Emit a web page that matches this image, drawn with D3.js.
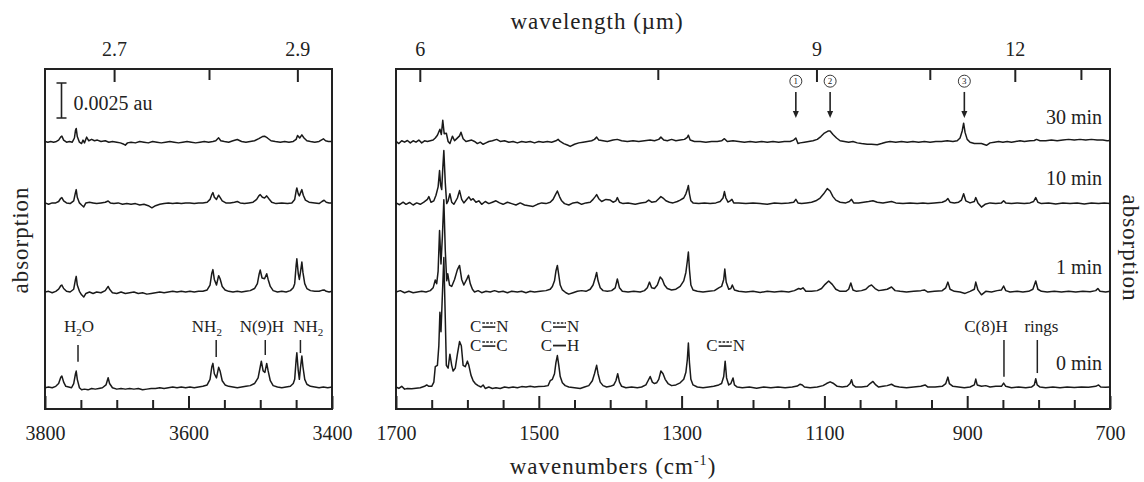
<!DOCTYPE html>
<html>
<head>
<meta charset="utf-8">
<script src="https://cdn.jsdelivr.net/npm/d3@7"></script>
<style>
  body { margin: 0; background: #fff; }
  svg text { font-family: "Liberation Serif", "DejaVu Serif", serif; fill: #222; }
</style>
</head>
<body>
<div id="chart"></div>
<script>
// IR absorption spectra, N-H stretch region (left) and fingerprint region (right)
// absorbance values in 10^-3 au, relative to each trace's own baseline

const times = ['0 min', '1 min', '10 min', '30 min'];
const offsets = [1.52, 8.36, 14.68, 19.07];

// 3800-3400 cm-1
const nh0 = [[3800,0],[3795,0.05],[3790,0],[3785,0.1],[3781,0.3],[3778,0.75],[3776.5,0.84],[3774,0.4],[3771,0.1],[3767,0.05],[3763,0],[3760,0.3],[3757.5,1.0],[3756.5,1.19],[3755,0.6],[3752,0],[3749,-0.15],[3745,-0.1],[3740,-0.15],[3735,-0.05],[3730,-0.1],[3725,-0.05],[3720,0],[3715,0.2],[3712,0.71],[3710,0.3],[3706,0],[3700,-0.1],[3694,-0.05],[3688,-0.1],[3682,-0.05],[3676,-0.1],[3670,-0.05],[3664,-0.15],[3658,-0.1],[3652,-0.05],[3646,-0.05],[3640,0],[3634,-0.05],[3628,0],[3622,0.05],[3616,0],[3610,0.05],[3604,0],[3598,0.05],[3592,0],[3586,0.05],[3580,0.1],[3574,0.2],[3570,0.6],[3567.5,1.5],[3566,1.74],[3564,1.0],[3561,0.7],[3558,1.46],[3556,1.2],[3553,0.5],[3549,0.2],[3544,0.1],[3538,0.05],[3532,0],[3526,0.05],[3520,0.1],[3514,0.15],[3508,0.3],[3503,0.7],[3500,1.5],[3498.5,1.9],[3496,1.2],[3493.5,1.1],[3491,1.74],[3489,1.2],[3486,0.5],[3482,0.15],[3476,0.05],[3470,0],[3464,0.05],[3458,0.1],[3454,0.3],[3452,0.6],[3450,2.0],[3449,2.5],[3447,1.2],[3445.5,0.6],[3444,1.4],[3442,2.26],[3440.5,1.5],[3438,0.6],[3435,0.25],[3430,0.1],[3424,0.05],[3418,0],[3412,0.05],[3406,0],[3400,0.05]];
const nh1 = [[3800,0],[3795,0.05],[3790,-0.05],[3785,0.05],[3781,0.2],[3778,0.45],[3776.5,0.5],[3774,0.25],[3770,0.05],[3765,0],[3760,0.2],[3757.5,0.9],[3756.5,1.12],[3755,0.5],[3752,0.05],[3749,-0.2],[3746,-0.36],[3743,-0.1],[3738,0],[3733,-0.1],[3728,0],[3722,-0.05],[3716,0.1],[3712,0.4],[3710,0.2],[3706,-0.05],[3700,-0.1],[3694,0],[3688,-0.1],[3682,-0.05],[3676,0],[3670,-0.1],[3664,-0.05],[3658,-0.15],[3652,-0.1],[3646,-0.05],[3640,0],[3634,-0.05],[3628,0],[3622,0.05],[3616,0],[3610,0.05],[3604,0],[3598,0.05],[3592,0],[3586,0.05],[3580,0.05],[3574,0.15],[3570,0.5],[3567.5,1.35],[3566,1.6],[3564,0.9],[3561,0.5],[3558,1.17],[3556,0.95],[3553,0.4],[3549,0.15],[3544,0.05],[3538,0],[3532,0.05],[3526,0],[3520,0.05],[3514,0.1],[3508,0.25],[3504,0.6],[3501.5,1.3],[3500,1.57],[3497.5,1.0],[3494,0.95],[3491,1.31],[3489,0.9],[3486,0.4],[3482,0.1],[3476,0],[3470,0.05],[3464,0],[3458,0.1],[3454,0.3],[3452,0.6],[3450,1.9],[3449,2.38],[3447,1.3],[3445.5,0.9],[3444,1.4],[3442,2.14],[3440.5,1.4],[3438,0.6],[3435,0.25],[3430,0.1],[3424,0.05],[3418,0.05],[3414,0.12],[3411,0.15],[3408,0.05],[3404,0],[3400,0.05]];
const nh10 = [[3800,0.05],[3795,-0.05],[3790,0.05],[3785,0.05],[3781,0.15],[3778,0.38],[3776.5,0.43],[3774,0.2],[3770,0.05],[3765,0],[3760,0.2],[3757.5,0.8],[3756.5,1.0],[3755,0.45],[3752,0.05],[3749,-0.1],[3746,-0.24],[3743,0.05],[3738,0.1],[3733,0.05],[3728,0],[3722,0.05],[3716,0.1],[3712,0.19],[3709,0.05],[3704,0],[3698,0.05],[3692,-0.05],[3686,0],[3680,-0.05],[3674,0],[3668,-0.1],[3662,-0.05],[3656,-0.15],[3651,-0.3],[3646,-0.15],[3640,-0.05],[3634,0],[3628,0.05],[3622,0],[3616,0.05],[3610,0],[3604,0.05],[3598,0.05],[3592,0],[3586,0.05],[3580,0.05],[3574,0.1],[3570,0.3],[3567.5,0.65],[3566,0.79],[3564,0.45],[3561,0.3],[3558,0.6],[3556,0.45],[3553,0.2],[3548,0.05],[3542,0.05],[3536,0.1],[3532,0.15],[3528,0.05],[3522,0],[3516,0.05],[3510,0.1],[3505,0.3],[3502,0.55],[3500,0.64],[3497,0.45],[3494,0.4],[3491,0.55],[3488,0.35],[3484,0.1],[3478,0],[3470,0.05],[3462,0],[3456,0.05],[3452,0.3],[3450,0.9],[3449,1.12],[3447,0.7],[3445.5,0.55],[3444,0.75],[3442,1.0],[3440,0.6],[3437,0.25],[3432,0.1],[3424,0.05],[3418,0],[3414,0.15],[3411,0.24],[3408,0.1],[3404,0.05],[3400,0.05]];
const nh30 = [[3800,0.05],[3796,0],[3792,0.05],[3788,0],[3784,0.05],[3781,0.15],[3778,0.38],[3776.5,0.43],[3774,0.15],[3770,0],[3766,0.05],[3762,0],[3759,0.3],[3757.5,0.85],[3756.5,0.98],[3755,0.4],[3752,0],[3749,-0.1],[3747,0.15],[3745,-0.05],[3742,0.36],[3739,0.1],[3735,0.2],[3731,0.1],[3727,0.15],[3722,0.05],[3716,0.1],[3711,0],[3706,0.05],[3700,0],[3695,-0.05],[3690,-0.15],[3688,-0.21],[3685,-0.05],[3680,0],[3674,-0.05],[3668,0.05],[3662,0],[3656,-0.05],[3650,0.05],[3644,0],[3638,-0.05],[3632,0],[3626,0.05],[3620,0],[3614,-0.05],[3608,0],[3602,0.05],[3596,0],[3590,-0.05],[3584,0],[3578,0.05],[3572,0],[3566,0.05],[3562,0.1],[3558,0.31],[3555,0.1],[3550,0.05],[3544,0],[3538,0.1],[3532,0.19],[3526,0.05],[3520,0],[3514,0.05],[3508,0.1],[3502,0.25],[3497,0.4],[3494,0.43],[3490,0.3],[3485,0.1],[3479,0.05],[3472,0],[3466,0.05],[3460,0],[3454,0.05],[3450,0.2],[3448,0.48],[3445,0.3],[3442,0.52],[3439,0.3],[3435,0.1],[3430,0.05],[3424,0],[3418,0.05],[3415,0.15],[3412,0.24],[3409,0.1],[3405,0.05],[3400,0.05]];

// 1700-700 cm-1
const fp0 = [[1700,0.05],[1696,-0.05],[1692,0.1],[1688,-0.1],[1684,-0.05],[1678,-0.08],[1672,-0.03],[1666,0],[1660,0.1],[1657,0.2],[1654,0.1],[1650,0.1],[1647,0.4],[1645,1.5],[1642,1.6],[1640,3.0],[1638.5,5.4],[1637,4.0],[1635.5,6.0],[1633,9.3],[1631,5.0],[1629.5,1.6],[1627,1.4],[1624.5,2.4],[1622,1.6],[1620,1.2],[1617,1.4],[1614,2.4],[1611,3.3],[1608.5,3.0],[1606,1.6],[1603,1.5],[1600,1.9],[1598,1.6],[1595,0.9],[1592,0.5],[1589,0.3],[1585,0.15],[1581,0.05],[1578,0.2],[1575,-0.05],[1570,0.05],[1565,-0.05],[1560,0],[1554,-0.05],[1548,0.05],[1542,0],[1536,0.05],[1530,0],[1524,0.08],[1518,0.05],[1512,0.1],[1506,0.05],[1500,0.08],[1492,0.1],[1487,0.15],[1484,0.5],[1481,0.6],[1478,1.0],[1476,1.8],[1474,2.3],[1472,1.6],[1470,0.8],[1467,0.35],[1463,0.15],[1458,0.05],[1450,0],[1442,-0.05],[1436,0.05],[1430,0.15],[1425,0.5],[1422,1.0],[1419,1.6],[1417,1.0],[1414,0.4],[1410,0.15],[1405,0.05],[1400,0.1],[1395,0.2],[1392,0.5],[1389.5,1.0],[1387,0.4],[1384,0.1],[1378,0],[1370,0.05],[1362,0],[1356,0.05],[1350,0.2],[1347,0.5],[1344,0.8],[1341,0.4],[1338,0.3],[1335,0.35],[1332,0.6],[1329,1.2],[1326,1.0],[1323,0.6],[1319,0.3],[1314,0.15],[1308,0.2],[1302,0.35],[1297,0.6],[1294,1.1],[1292,2.0],[1290.5,3.2],[1289,1.8],[1287,0.6],[1284,0.2],[1278,0.05],[1270,0],[1262,0.05],[1255,0.1],[1248,0.2],[1244,0.3],[1241,0.8],[1239,1.9],[1237,0.7],[1234,0.2],[1231,0.3],[1228,0.7],[1226,0.2],[1222,0.05],[1215,0],[1205,0.05],[1195,-0.03],[1185,0.05],[1175,0],[1165,0.05],[1155,0],[1145,0.05],[1138,0.12],[1134,0.25],[1131,0.2],[1128,0.05],[1120,0],[1110,0.05],[1102,0.15],[1097,0.3],[1092,0.42],[1087,0.3],[1082,0.1],[1075,0.05],[1068,0.1],[1064,0.3],[1062,0.57],[1060,0.2],[1056,0.05],[1048,0.05],[1040,0.1],[1036,0.3],[1032,0.45],[1028,0.2],[1024,0.05],[1018,0.1],[1012,0.15],[1006,0.25],[1001,0.1],[995,0.05],[985,0],[975,0.05],[965,0.1],[959,0.2],[955,0.05],[945,0.05],[935,0.1],[930,0.3],[927,0.76],[925,0.3],[920,0.1],[912,0.05],[904,0],[896,0.05],[890,0.2],[888,0.62],[886,0.2],[880,0.1],[874,0.15],[868,0.05],[860,0.1],[852,0.1],[849,0.33],[846,0.1],[838,0],[828,0.05],[818,0],[810,0.05],[806,0.2],[804,0.64],[802,0.2],[798,0.05],[790,0],[780,0.05],[770,0],[760,0.05],[750,0.02],[740,0.05],[730,0.03],[720,0.1],[716,0.2],[713,0.05],[706,0.03],[700,0.05]];
const fp1 = [[1700,0],[1694,0.1],[1688,-0.05],[1682,0.05],[1676,-0.05],[1670,0],[1664,0.05],[1658,0],[1652,0.1],[1648,0.3],[1645,0.86],[1643,0.6],[1641,1.5],[1639,4.4],[1637,2.0],[1635,4.0],[1633,6.6],[1631,3.0],[1629,0.8],[1627.5,1.3],[1625,0.5],[1622,0.4],[1618,0.9],[1614,1.6],[1611,1.9],[1608,0.9],[1605,0.5],[1601,0.9],[1598.5,1.2],[1596,0.6],[1593,0.2],[1590,0],[1585,0.1],[1580,-0.05],[1574,0.05],[1568,0],[1562,0.1],[1556,0],[1550,0.05],[1544,-0.05],[1538,0.05],[1530,0],[1524,0.05],[1518,-0.05],[1512,0.05],[1506,0],[1498,0.05],[1490,0.1],[1484,0.2],[1481,0.4],[1478,0.8],[1476,1.5],[1474,1.9],[1472,1.2],[1470,0.5],[1467,0.15],[1462,-0.05],[1458,-0.15],[1452,-0.05],[1446,0.05],[1440,0.1],[1434,0.05],[1428,0.2],[1424,0.5],[1421,1.0],[1419,1.4],[1417,0.8],[1414,0.3],[1410,0.1],[1404,0.05],[1398,0.1],[1393,0.3],[1390,0.93],[1387,0.3],[1383,0.05],[1375,0],[1367,0.05],[1358,0],[1352,0.1],[1348,0.3],[1345,0.71],[1342,0.3],[1338,0.25],[1334,0.5],[1330,1.07],[1327,0.9],[1324,0.5],[1320,0.25],[1314,0.15],[1308,0.2],[1302,0.4],[1297,0.8],[1294,1.4],[1292,2.2],[1290.5,2.86],[1289,1.6],[1287,0.5],[1284,0.15],[1278,0.05],[1270,0],[1262,0.05],[1254,0.1],[1248,0.3],[1244,0.4],[1241,0.9],[1239.5,1.64],[1237.5,0.7],[1234,0.2],[1231,0.25],[1229,0.5],[1226,0.15],[1220,0.05],[1210,0],[1200,0.05],[1190,-0.03],[1180,0.05],[1170,0],[1160,0.05],[1150,0],[1142,0.1],[1136,0.25],[1133,0.2],[1130,0.3],[1126,0.05],[1118,0.05],[1110,0.1],[1104,0.25],[1099,0.55],[1094,0.79],[1089,0.55],[1084,0.2],[1078,0.05],[1070,0.05],[1066,0.2],[1063,0.64],[1060,0.15],[1055,0.05],[1048,0.1],[1042,0.2],[1038,0.4],[1034,0.5],[1029,0.25],[1024,0.1],[1018,0.15],[1012,0.2],[1006,0.36],[1001,0.1],[994,0.05],[985,0],[975,0.05],[965,0.1],[960,0.15],[955,0],[946,0.05],[935,0.1],[930,0.3],[927,0.71],[924,0.2],[918,0.05],[910,0],[903,-0.1],[896,0.05],[890,0.2],[888,0.71],[885,0.15],[880,-0.2],[874,0.05],[866,0],[858,0.1],[852,0.15],[849,0.43],[846,0.1],[840,0],[830,0.05],[822,0],[814,0.05],[808,0.2],[804,0.79],[801,0.2],[796,0.05],[788,0],[778,0.05],[768,0],[758,0.05],[748,0],[738,0.05],[728,0.02],[720,0.1],[717,0.25],[714,0.05],[706,0],[700,0.05]];
const fp10 = [[1700,0.05],[1695,-0.08],[1690,0.1],[1686,-0.05],[1681,0.08],[1676,-0.1],[1671,0.05],[1666,-0.05],[1661,0.1],[1656,0.3],[1654,0.5],[1651,0.1],[1647,0.2],[1644,0.6],[1641,1.2],[1639,2.36],[1637.5,1.3],[1636,1.0],[1634.5,2.5],[1633,3.8],[1631,1.5],[1629,0],[1627,0.2],[1624.5,0.7],[1622,0.1],[1619,-0.05],[1614,0.4],[1611,0.93],[1608,0.3],[1605,0.05],[1601,0.3],[1598,0.48],[1595,0.25],[1592,0.35],[1588,0.1],[1584,0.2],[1580,-0.05],[1575,0.15],[1570,0],[1565,0.1],[1560,0.2],[1555,0.05],[1550,-0.05],[1544,0.1],[1538,0],[1532,-0.1],[1526,0.05],[1520,-0.1],[1514,-0.15],[1508,-0.2],[1502,-0.05],[1496,0.05],[1490,0],[1484,0.1],[1480,0.3],[1477,0.6],[1474,0.9],[1471,0.5],[1468,0.2],[1464,0],[1458,-0.1],[1452,0.05],[1446,0.1],[1440,-0.05],[1434,0.05],[1428,0.1],[1424,0.3],[1421,0.5],[1419,0.64],[1416,0.35],[1412,0.15],[1406,0.3],[1400,0.25],[1396,0.1],[1392,0.2],[1390,0.43],[1387,0.1],[1382,0],[1375,0.05],[1365,-0.05],[1357,0.05],[1350,0.1],[1346,0.25],[1342,0.1],[1336,0.15],[1332,0.35],[1329,0.5],[1326,0.4],[1322,0.2],[1317,0.1],[1312,0.05],[1306,0.15],[1302,0.25],[1297,0.4],[1294,0.7],[1292,1.0],[1290.5,1.29],[1289,0.7],[1287,0.2],[1284,0.05],[1276,0],[1268,0.05],[1260,0],[1252,0.05],[1246,0.15],[1242,0.4],[1240,0.86],[1238,0.4],[1235,0.1],[1232,0.2],[1229.5,0.3],[1227,0.05],[1220,0.05],[1210,0],[1200,0.05],[1190,0],[1180,-0.05],[1170,0.05],[1160,0],[1150,0.05],[1143,0.1],[1140,0.3],[1137,0.05],[1132,0],[1125,0.05],[1118,0.1],[1112,0.2],[1106,0.4],[1101,0.7],[1096,1.07],[1092,0.9],[1088,0.5],[1084,0.25],[1078,0.1],[1070,0.05],[1065,0.15],[1062,0.3],[1059,0.05],[1052,0.05],[1045,0.1],[1038,0.15],[1032,0.2],[1026,0.1],[1018,0.05],[1012,0.1],[1006,0.15],[1000,0.05],[990,0],[980,0.05],[970,0],[962,0.05],[955,0],[946,0.05],[935,0.1],[930,0.2],[927,0.36],[924,0.1],[918,0.05],[912,0.1],[908,0.25],[905,0.71],[902,0.2],[896,0.05],[890,0.15],[888,0.43],[885,0.05],[880,-0.25],[875,-0.05],[868,0.05],[860,0],[852,0.05],[849,0.2],[846,0.05],[838,0],[830,0.05],[820,0],[812,0.05],[807,0.15],[804,0.43],[801,0.1],[796,0],[786,0.05],[776,-0.03],[766,0.05],[756,0],[746,0.05],[736,-0.03],[726,0.05],[716,0],[708,0.05],[700,0]];
const fp30 = [[1700,0.05],[1696,-0.1],[1692,0.1],[1688,0],[1684,0.12],[1680,-0.05],[1676,0.1],[1672,0],[1668,0.15],[1664,-0.05],[1660,0.1],[1656,0.05],[1652,0.1],[1648,0.15],[1645,0.3],[1642,0.5],[1638.5,0.93],[1636.5,0.55],[1634.5,1.57],[1632.5,0.6],[1629.5,0.64],[1627,0.05],[1624.5,-0.1],[1621,0.43],[1618,0.1],[1616,0.2],[1611,0.45],[1609,0.71],[1606,0.25],[1602,0.05],[1598,0.1],[1594,0.15],[1590,0.05],[1586,-0.1],[1582,0],[1578,-0.15],[1574,-0.05],[1570,0.05],[1565,0.1],[1559,0.2],[1554,0.05],[1548,0.1],[1542,0],[1536,0.05],[1530,-0.05],[1524,0.05],[1518,0],[1512,0.05],[1506,-0.05],[1500,0.05],[1494,0],[1488,0.05],[1482,0],[1476,0.1],[1473,0.2],[1470,0.05],[1465,-0.1],[1460,-0.2],[1456,-0.3],[1450,-0.15],[1444,-0.05],[1438,0],[1432,0.05],[1426,0.1],[1422,0.2],[1419,0.36],[1416,0.15],[1410,0.1],[1404,0.05],[1396,0.15],[1390,0.2],[1384,0.1],[1376,0.05],[1368,0.1],[1360,0.05],[1352,0.1],[1344,0.15],[1338,0.1],[1332,0.2],[1329,0.36],[1325,0.15],[1320,0.1],[1314,0.2],[1308,0.1],[1302,0.15],[1296,0.2],[1292,0.35],[1290.5,0.5],[1288,0.15],[1282,0.05],[1274,0.05],[1266,0],[1258,0.05],[1250,0.05],[1244,0.1],[1240,0.25],[1236,0.05],[1228,0.1],[1220,0.05],[1212,0],[1204,0.05],[1196,0],[1188,0.05],[1180,0],[1172,0.05],[1164,0],[1156,0.05],[1148,0.05],[1143,0.15],[1140,0.3],[1137,-0.1],[1134,-0.05],[1128,0],[1122,0.05],[1116,0.1],[1110,0.2],[1105,0.4],[1100,0.65],[1095,0.79],[1092,0.8],[1088,0.55],[1083,0.3],[1078,0.1],[1072,0.05],[1066,0],[1060,0.05],[1054,-0.05],[1048,-0.1],[1040,-0.15],[1034,-0.15],[1026,-0.18],[1020,-0.1],[1014,0],[1008,0.05],[1000,0],[992,0.05],[984,0],[976,0.05],[968,0],[960,0.05],[952,0],[944,0.05],[936,0.05],[928,0.1],[920,0.05],[914,0.1],[910,0.3],[907,0.8],[905,1.36],[903,0.7],[900,0.2],[896,0],[890,-0.1],[880,-0.1],[873,-0.22],[868,-0.05],[862,0],[856,0.05],[850,0],[844,0.05],[838,0],[832,0.05],[826,0.1],[820,0.05],[812,0.1],[806,0.12],[803,0.2],[798,0.1],[790,0.1],[782,0.15],[774,0.1],[766,0.15],[758,0.2],[750,0.15],[742,0.2],[734,0.15],[726,0.2],[718,0.15],[710,0.15],[704,0.1],[700,0.12]];

// axis ticks (cm-1 every 50, labels every 200; wavelength ticks in µm)
const nhTicks = d3.range(3800, 3399, -50);
const nhLabels = [3800, 3600, 3400];
const fpTicks = d3.range(1700, 699, -50);
const fpLabels = [1700, 1500, 1300, 1100, 900, 700];
const nhUmTicks = [2.7, 2.8, 2.9];
const nhUmLabels = [2.7, 2.9];
const fpUmTicks = [6, 7.5, 9, 10.5, 12, 13.5];
const fpUmLabels = [6, 9, 12];

// band assignments
const nhBands = [
  { label: [['H'], ['2', 'sub'], ['O']], nu: 3754, labelNu: 3752.6, top: 4.57, bottom: 3.38 },
  { label: [['NH'], ['2', 'sub']], nu: 3561.4, labelNu: 3574.4, top: 4.93, bottom: 3.71 },
  { label: [['N(9)H']], nu: 3493, labelNu: 3497.6, top: 4.93, bottom: 3.86 },
  { label: [['NH'], ['2', 'sub']], nu: 3444, labelNu: 3433, top: 4.93, bottom: 4.0 }
];
const fpBands = [
  { label: [['C(8)H']], nu: 848.5, labelNu: 873.7, top: 4.93, bottom: 2.31 },
  { label: [['rings']], nu: 801.8, labelNu: 796, top: 4.93, bottom: 2.57 }
];
const bondLabels = [
  { nu: 1570, row: 0, atom: 'N', bond: 'partial' },
  { nu: 1570, row: 1, atom: 'C', bond: 'partial' },
  { nu: 1471, row: 0, atom: 'N', bond: 'partial' },
  { nu: 1471, row: 1, atom: 'H', bond: 'single' },
  { nu: 1239, row: 1, atom: 'N', bond: 'partial' }
];
const bondRows = [5.5, 4.14];
const markers = [{ nu: 1140, n: '1' }, { nu: 1092, n: '2' }, { nu: 904, n: '3' }];

const width = 1144, height = 482;
const plotTop = 69, plotBottom = 409;
const ink = '#222';

const svg = d3.select('#chart').append('svg')
  .attr('width', width)
  .attr('height', height)
  .attr('font-family', '"Liberation Serif", "DejaVu Serif", serif');

const xL = d3.scaleLinear().domain([3800, 3400]).range([45, 332]);
const xR = d3.scaleLinear().domain([1700, 700]).range([396, 1110]);
const y = d3.scaleLinear().domain([0, 24.3]).range([plotBottom, plotTop]);

function styleAxis(g) {
  g.attr('font-family', null).attr('font-size', 20).attr('color', ink);
  g.select('.domain').remove();
  g.selectAll('.tick line').attr('stroke-width', 2);
}

function bottomAxis(x, values, labels) {
  const g = svg.append('g')
    .attr('transform', `translate(0,${plotBottom})`)
    .call(d3.axisBottom(x).tickValues(values).tickSizeInner(-9).tickSizeOuter(0).tickPadding(17)
      .tickFormat(d => labels.includes(d) ? d : ''));
  styleAxis(g);
  g.selectAll('.tick line').filter(d => labels.includes(d)).attr('y2', -13);
}

function topAxis(x, um, labels) {
  const g = svg.append('g')
    .attr('transform', `translate(0,${plotTop})`)
    .call(d3.axisTop(x).tickValues(um.map(l => 1e4 / l)).tickSizeInner(-11).tickSizeOuter(0).tickPadding(13)
      .tickFormat((d, i) => labels.includes(um[i]) ? um[i] : ''));
  styleAxis(g);
  g.selectAll('.tick line').filter((d, i) => labels.includes(um[i])).attr('y2', 13);
}

bottomAxis(xL, nhTicks, nhLabels);
bottomAxis(xR, fpTicks, fpLabels);
topAxis(xL, nhUmTicks, nhUmLabels);
topAxis(xR, fpUmTicks, fpUmLabels);

// frames
[xL, xR].forEach(x => {
  svg.append('rect')
    .attr('x', x.range()[0])
    .attr('y', plotTop)
    .attr('width', x.range()[1] - x.range()[0])
    .attr('height', plotBottom - plotTop)
    .attr('fill', 'none')
    .attr('stroke', ink)
    .attr('stroke-width', 2);
});

// spectra
function drawSpectra(x, sets) {
  sets.forEach((data, i) => {
    const line = d3.line()
      .x(d => x(d[0]))
      .y(d => y(offsets[i] + d[1]));
    svg.append('path')
      .attr('d', line(data))
      .attr('fill', 'none')
      .attr('stroke', '#1a1a1a')
      .attr('stroke-width', 1.5)
      .attr('stroke-linejoin', 'round');
  });
}
drawSpectra(xL, [nh0, nh1, nh10, nh30]);
drawSpectra(xR, [fp0, fp1, fp10, fp30]);

// time labels
svg.selectAll('.time')
  .data(times)
  .join('text')
  .attr('class', 'time')
  .attr('x', xR(700) - 8)
  .attr('y', (d, i) => y(offsets[i] + 1.3))
  .attr('text-anchor', 'end')
  .attr('font-size', 20)
  .text(d => d);

// band labels with a short marker line
function drawBands(x, bands) {
  bands.forEach(b => {
    svg.append('line')
      .attr('x1', x(b.nu)).attr('x2', x(b.nu))
      .attr('y1', y(b.top)).attr('y2', y(b.bottom))
      .attr('stroke', ink).attr('stroke-width', 1.5);
    const t = svg.append('text')
      .attr('x', x(b.labelNu))
      .attr('y', y(5.5))
      .attr('text-anchor', 'middle')
      .attr('font-size', 17);
    b.label.forEach(([s, kind], k) => {
      const span = t.append('tspan').text(s);
      if (kind === 'sub') span.attr('font-size', 11).attr('dy', 4);
      else if (k > 0) span.attr('dy', -4);
    });
  });
}
drawBands(xL, nhBands);
drawBands(xR, fpBands);

// C-N / C-C / C-H bond labels
bondLabels.forEach(b => {
  const cx = xR(b.nu);
  const base = y(bondRows[b.row]);
  svg.append('text').attr('x', cx - 7.5).attr('y', base)
    .attr('text-anchor', 'end').attr('font-size', 17).text('C');
  svg.append('text').attr('x', cx + 7.5).attr('y', base)
    .attr('text-anchor', 'start').attr('font-size', 17).text(b.atom);
  if (b.bond === 'partial') {
    svg.append('line')
      .attr('x1', cx - 6.5).attr('x2', cx + 6.5)
      .attr('y1', base - 9).attr('y2', base - 9)
      .attr('stroke', ink).attr('stroke-width', 1.4).attr('stroke-dasharray', '2.6,1.3');
    svg.append('line')
      .attr('x1', cx - 6.5).attr('x2', cx + 6.5)
      .attr('y1', base - 5).attr('y2', base - 5)
      .attr('stroke', ink).attr('stroke-width', 1.6);
  } else {
    svg.append('line')
      .attr('x1', cx - 6.5).attr('x2', cx + 6.5)
      .attr('y1', base - 5.5).attr('y2', base - 5.5)
      .attr('stroke', ink).attr('stroke-width', 1.8);
  }
});

// numbered arrows on the 30 min trace
markers.forEach(m => {
  const cx = xR(m.nu);
  const cy = y(23.43);
  const tip = y(20.79);
  svg.append('circle').attr('cx', cx).attr('cy', cy).attr('r', 6)
    .attr('fill', 'none').attr('stroke', ink).attr('stroke-width', 0.9);
  svg.append('text').attr('x', cx).attr('y', cy + 3.2)
    .attr('text-anchor', 'middle').attr('font-size', 9).text(m.n);
  svg.append('line').attr('x1', cx).attr('x2', cx)
    .attr('y1', y(22.66)).attr('y2', tip - 5)
    .attr('stroke', ink).attr('stroke-width', 1.6);
  svg.append('path')
    .attr('d', `M${cx - 3},${tip - 7}L${cx + 3},${tip - 7}L${cx},${tip}Z`)
    .attr('fill', ink);
});

// scale bar
const barX = xL(3777);
svg.append('path')
  .attr('d', `M${barX - 5},${y(23.3)}H${barX + 5}M${barX},${y(23.3)}V${y(20.8)}M${barX - 5},${y(20.8)}H${barX + 5}`)
  .attr('fill', 'none')
  .attr('stroke', ink)
  .attr('stroke-width', 1.6);
svg.append('text')
  .attr('x', barX + 12)
  .attr('y', y(21.4))
  .attr('font-size', 20)
  .text('0.0025 au');

// axis titles
const titleSize = 23, titleSpacing = 1;
svg.append('text')
  .attr('x', 597).attr('y', 29)
  .attr('text-anchor', 'middle')
  .attr('font-size', titleSize).attr('letter-spacing', titleSpacing)
  .text('wavelength (µm)');

const xt = svg.append('text')
  .attr('x', 613).attr('y', 474)
  .attr('text-anchor', 'middle')
  .attr('font-size', titleSize).attr('letter-spacing', titleSpacing);
xt.append('tspan').text('wavenumbers (cm');
xt.append('tspan').attr('font-size', 14).attr('dy', -9).text('-1');
xt.append('tspan').attr('dy', 9).text(')');

svg.append('text')
  .attr('transform', 'translate(28,240) rotate(-90)')
  .attr('text-anchor', 'middle')
  .attr('font-size', titleSize).attr('letter-spacing', titleSpacing)
  .text('absorption');

svg.append('text')
  .attr('transform', 'translate(1123,248) rotate(90)')
  .attr('text-anchor', 'middle')
  .attr('font-size', titleSize).attr('letter-spacing', titleSpacing)
  .text('absorption');
</script>
</body>
</html>
